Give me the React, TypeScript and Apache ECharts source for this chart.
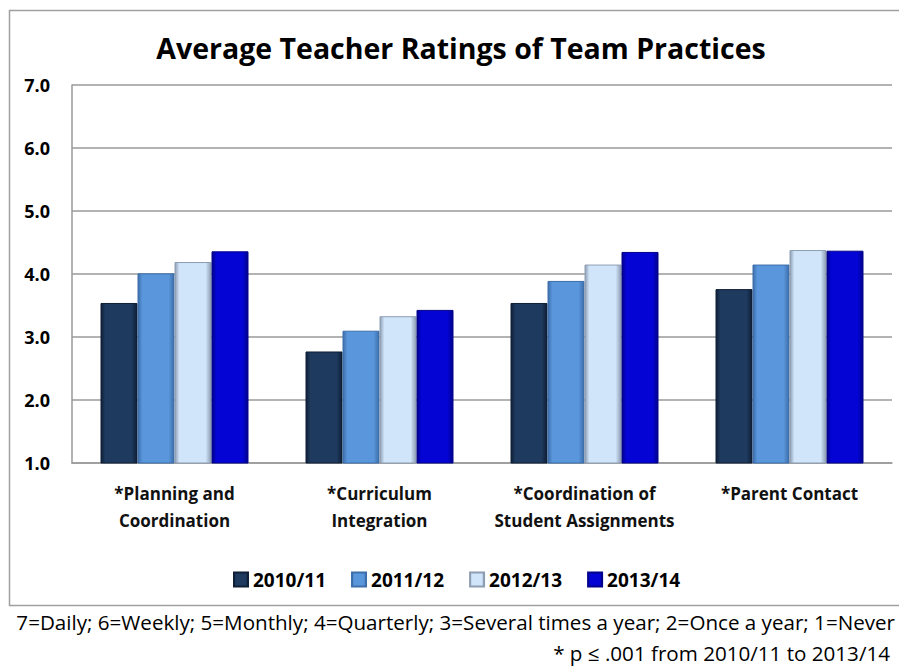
import React, { useEffect, useRef } from "react";
import * as echarts from "echarts";

const categories = ["*Planning and\nCoordination", "*Curriculum\nIntegration", "*Coordination of\nStudent Assignments", "*Parent Contact"];
const seriesNames = ["2010/11", "2011/12", "2012/13", "2013/14"];
const values2010 = [3.54, 2.77, 3.54, 3.76];
const values2011 = [4.01, 3.1, 3.89, 4.15];
const values2012 = [4.19, 3.33, 4.15, 4.38];
const values2013 = [4.36, 3.43, 4.35, 4.37];
const yTicks = ["1.0", "2.0", "3.0", "4.0", "5.0", "6.0", "7.0"];
const titleText = "Average Teacher Ratings of Team Practices";
const footnote1 = "7=Daily; 6=Weekly; 5=Monthly; 4=Quarterly; 3=Several times a year; 2=Once a year; 1=Never";
const footnote2 = "* p \u2264 .001 from 2010/11 to 2013/14";

const baseColors = ["#1E3A5F", "#5A96DC", "#D0E4FA", "#0404D4"];
const edgeColors = ["#0F1F36", "#3C6EAA", "#8E9EB2", "#02028A"];

function grad(i: number) {
  return new echarts.graphic.LinearGradient(0, 0, 1, 0, [
    { offset: 0, color: edgeColors[i] },
    { offset: 0.12, color: baseColors[i] },
    { offset: 0.85, color: baseColors[i] },
    { offset: 1, color: edgeColors[i] },
  ]);
}

export default function App() {
  const ref = useRef<HTMLDivElement>(null);
  useEffect(() => {
    if (!ref.current) return;
    const chart = echarts.init(ref.current, null, { renderer: "svg" });
    const allValues = [values2010, values2011, values2012, values2013];
    const font = "'Open Sans', 'Noto Sans', sans-serif";
    chart.setOption({
      animation: false,
      textStyle: { fontFamily: font },
      grid: { left: 72, right: 7, top: 85, bottom: 204, containLabel: false },
      legend: {
        data: seriesNames,
        top: 565,
        left: 228,
        itemWidth: 14,
        itemHeight: 14,
        itemGap: 25,
        icon: "rect",
        textStyle: { fontSize: 19, fontWeight: "bold", color: "#000", fontFamily: font },
      },
      xAxis: {
        type: "category",
        data: categories,
        axisLine: { lineStyle: { color: "#9a9a9a", width: 1.5 } },
        axisTick: { show: false },
        axisLabel: { fontSize: 17, fontWeight: "bold", color: "#111", lineHeight: 27, margin: 17, interval: 0 },
      },
      yAxis: {
        type: "value",
        min: 1,
        max: 7,
        interval: 1,
        axisLine: { show: true, lineStyle: { color: "#9a9a9a", width: 1.5 } },
        axisTick: { show: false },
        splitLine: { lineStyle: { color: "#9a9a9a", width: 1.5 } },
        axisLabel: {
          fontSize: 18,
          fontWeight: "bold",
          color: "#000",
          margin: 22,
          formatter: (v: number) => yTicks[Math.round(v) - 1] ?? v.toFixed(1),
        },
      },
      series: seriesNames.map((name, i) => ({
        name,
        type: "bar",
        data: allValues[i],
        barWidth: 37,
        barGap: "0%",
        itemStyle: { color: grad(i), borderColor: edgeColors[i], borderWidth: 1 },
      })),
      graphic: [
        {
          type: "rect",
          shape: { x: 9.5, y: 10.5, width: 900, height: 595 },
          style: { fill: "none", stroke: "#a0a0a0", lineWidth: 1.5 },
          silent: true,
          z: -1,
        },
        {
          type: "text",
          x: 461,
          y: 48,
          style: { text: titleText, fontSize: 28.5, fontWeight: "bold", fill: "#000", fontFamily: font, align: "center", verticalAlign: "middle" },
        },
        {
          type: "text",
          x: 895,
          y: 622,
          style: { text: footnote1, fontSize: 20.6, fill: "#000", fontFamily: font, align: "right", verticalAlign: "middle" },
        },
        {
          type: "text",
          x: 890,
          y: 653,
          style: { text: footnote2, fontSize: 20.6, fill: "#000", fontFamily: font, align: "right", verticalAlign: "middle" },
        },
      ],
    });
    return () => chart.dispose();
  }, []);
  return <div ref={ref} style={{ position: "fixed", left: 0, top: 0, width: 899, height: 667, background: "#fff" }} />;
}
